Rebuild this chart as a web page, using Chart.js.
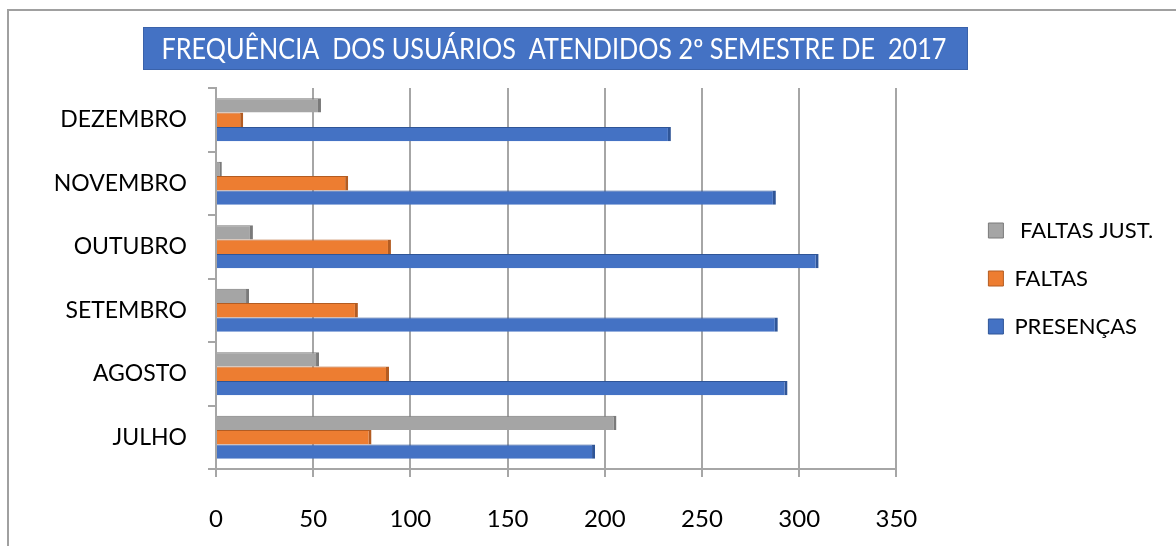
<!DOCTYPE html>
<html>
<head>
<meta charset="utf-8">
<script src="https://cdn.jsdelivr.net/npm/chart.js@4.4.1/dist/chart.umd.min.js"></script>
<style>
html,body{margin:0;padding:0;background:#fff;}
#wrap{width:1176px;height:546px;position:relative;}
</style>
</head>
<body>
<div id="wrap"><canvas id="c" width="1176" height="546"></canvas></div>
<script>
// ---- data ----
const categories = ['DEZEMBRO', 'NOVEMBRO', 'OUTUBRO', 'SETEMBRO', 'AGOSTO', 'JULHO'];
const faltasJust = [54, 3, 19, 17, 53, 206];
const faltas     = [14, 68, 90, 73, 89, 80];
const presencas  = [234, 288, 310, 289, 294, 195];
const xTicks = [0, 50, 100, 150, 200, 250, 300, 350];
const seriesNames = [' FALTAS JUST.', 'FALTAS', 'PRESENÇAS'];
const titleText = 'FREQUÊNCIA  DOS USUÁRIOS  ATENDIDOS 2º SEMESTRE DE  2017';

const FONT = 'Lato';
const LEG_SIZE = 22, LEG_BOX = 15, LEG_PAD = 26;

// legend width as Chart.js computes it, so the legend column lands where the reference has it
const mctx = document.createElement('canvas').getContext('2d');
mctx.font = 'normal ' + LEG_SIZE + 'px ' + FONT;
const maxText = Math.max(...seriesNames.map(s => mctx.measureText(s).width));
const legendWidth = LEG_PAD + LEG_BOX + LEG_SIZE / 2 + maxText + 10 - 9;
const legendLeft = 989 - LEG_PAD;
const padRight = Math.max(0, 1176 - legendLeft - legendWidth);

const decor = {
  id: 'decor',
  beforeDraw(chart) {
    const ctx = chart.ctx;
    ctx.save();
    ctx.fillStyle = '#fff';
    ctx.fillRect(0, 0, chart.width, chart.height);
    // outer frame (left + top)
    ctx.strokeStyle = '#A0A0A0';
    ctx.lineWidth = 2;
    ctx.beginPath();
    ctx.moveTo(8, chart.height);
    ctx.lineTo(8, 10);
    ctx.lineTo(chart.width, 10);
    ctx.stroke();
    // title banner
    ctx.fillStyle = '#4472C4';
    ctx.fillRect(143, 27, 825, 43);
    ctx.strokeStyle = '#3A62AA';
    ctx.lineWidth = 1;
    ctx.strokeRect(143.5, 27.5, 824, 42);
    ctx.fillStyle = '#ffffff';
    ctx.textAlign = 'center';
    ctx.textBaseline = 'middle';
    ctx.font = '28px ' + FONT;
    const w = ctx.measureText(titleText).width;
    ctx.translate(554, 50);
    ctx.scale(785 / w, 1);
    ctx.fillText(titleText, 0, 0);
    ctx.restore();
  }
};

const gridGray = '#A6A6A6';

new Chart(document.getElementById('c'), {
  type: 'bar',
  data: {
    labels: categories,
    datasets: [
      { label: seriesNames[0], data: faltasJust, backgroundColor: '#A5A5A5', borderColor: '#7A7A7A', yAxisID: 'y' },
      { label: seriesNames[1], data: faltas, backgroundColor: '#ED7D31', borderColor: '#B35C22', yAxisID: 'y' },
      { label: seriesNames[2], data: presencas, backgroundColor: '#4472C4', borderColor: '#2F5597', yAxisID: 'y' }
    ]
  },
  options: {
    indexAxis: 'y',
    responsive: false,
    animation: false,
    devicePixelRatio: 1,
    categoryPercentage: 0.68,
    barPercentage: 1.0,
    datasets: { bar: { borderWidth: { top: 1, right: 3, bottom: 0, left: 0 }, borderSkipped: 'start' } },
    layout: { padding: { top: 88, right: padRight, bottom: 0, left: 0 } },
    plugins: {
      title: { display: false },
      tooltip: { enabled: false },
      legend: {
        position: 'right',
        fullSize: false,
        align: 'center',
        labels: {
          boxWidth: LEG_BOX,
          boxHeight: LEG_BOX,
          padding: LEG_PAD,
          color: '#000',
          font: { family: FONT, size: LEG_SIZE }
        }
      }
    },
    scales: {
      x: {
        type: 'linear',
        min: xTicks[0],
        max: xTicks[xTicks.length - 1],
        ticks: { stepSize: 50, color: '#000', font: { family: FONT, size: 24 }, padding: 28 },
        grid: { color: gridGray, lineWidth: 2, drawTicks: true, tickLength: 8, tickColor: gridGray },
        border: { display: true, color: gridGray, width: 2 },
        afterFit(s) { s.height = 77; }
      },
      y: {
        type: 'category',
        position: 'left',
        ticks: { color: '#000', font: { family: FONT, size: 23 }, padding: 21 },
        grid: { drawOnChartArea: false, drawTicks: true, tickLength: 8, color: gridGray, lineWidth: 2 },
        border: { display: true, color: gridGray, width: 2 },
        afterFit(s) { s.width = 216; }
      },
      yR: {
        type: 'linear',
        position: 'right',
        min: 0, max: 1,
        grid: { display: false },
        ticks: { display: false },
        border: { display: false },
        afterFit(s) { s.width = legendLeft - 897; }
      }
    }
  },
  plugins: [decor]
});
</script>
</body>
</html>
